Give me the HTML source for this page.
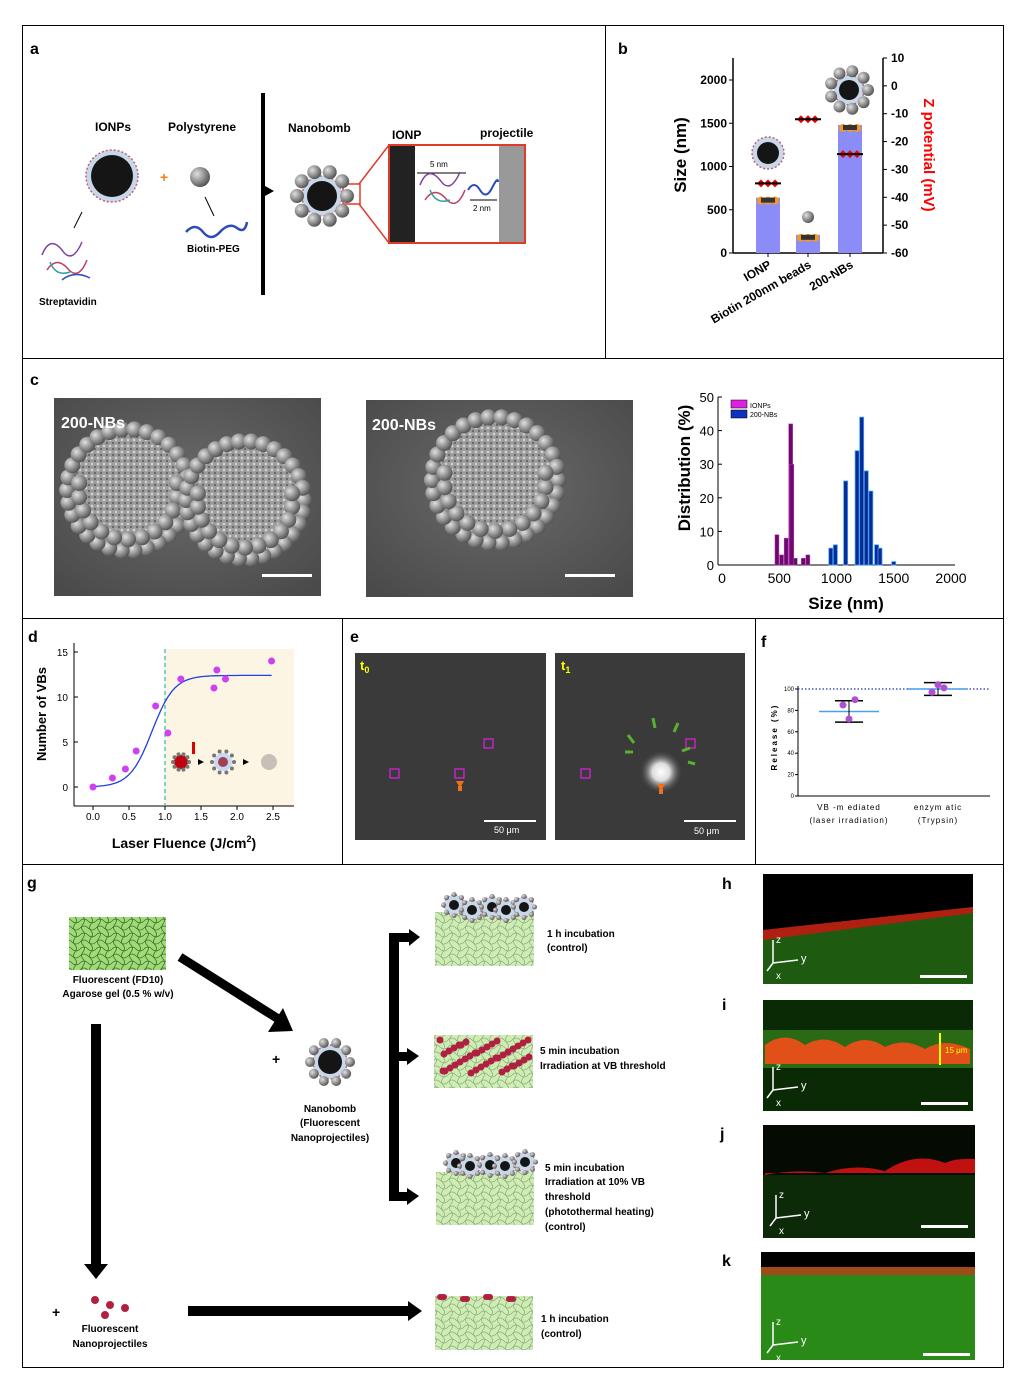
<!DOCTYPE html>
<html><head><meta charset="utf-8"><style>
html,body{margin:0;padding:0;background:#fff;}
svg{display:block;font-family:"Liberation Sans",Arial,sans-serif;}
.b{font-weight:bold}
</style></head><body>
<svg id="fig" width="1014" height="1383" viewBox="0 0 1014 1383" xmlns="http://www.w3.org/2000/svg">
<defs>
<pattern id="mesh" width="16" height="14" patternUnits="userSpaceOnUse">
<rect width="16" height="14" fill="#cdeeb0"/>
<path d="M0 4 Q4 0 8 4 T16 4 M0 11 Q4 7 8 11 T16 11 M3 0 Q0 4 3 7 T3 14 M11 0 Q8 4 11 7 T11 14" stroke="#8fa88a" stroke-width="0.7" fill="none"/>
</pattern>
<pattern id="mesh2" width="16" height="14" patternUnits="userSpaceOnUse">
<rect width="16" height="14" fill="#9fdc74"/>
<path d="M0 4 Q4 0 8 4 T16 4 M0 11 Q4 7 8 11 T16 11 M3 0 Q0 4 3 7 T3 14 M11 0 Q8 4 11 7 T11 14" stroke="#3c6a3a" stroke-width="0.8" fill="none"/>
</pattern>
<pattern id="semtex" width="6" height="6" patternUnits="userSpaceOnUse">
<rect width="6" height="6" fill="#9a9a9a"/><circle cx="2" cy="2" r="1.4" fill="#d0d0d0"/><circle cx="5" cy="5" r="1" fill="#5a5a5a"/>
</pattern>
<radialGradient id="sem" cx="50%" cy="45%" r="70%"><stop offset="0" stop-color="#6a6a6a"/><stop offset="1" stop-color="#4a4a4a"/></radialGradient>
<radialGradient id="bead" cx="35%" cy="35%" r="70%"><stop offset="0" stop-color="#e0e0e0"/><stop offset="1" stop-color="#505050"/></radialGradient>
<radialGradient id="spot" cx="50%" cy="50%" r="50%"><stop offset="0" stop-color="#fff"/><stop offset="0.4" stop-color="#ddd"/><stop offset="1" stop-color="#333" stop-opacity="0"/></radialGradient>
</defs>

<g stroke="#000" stroke-width="1" fill="none">
<rect x="22.5" y="25.5" width="981" height="1342"/>
<line x1="22" y1="358.5" x2="1003" y2="358.5"/>
<line x1="22" y1="618.5" x2="1003" y2="618.5"/>
<line x1="22" y1="864.5" x2="1003" y2="864.5"/>
<line x1="605.5" y1="25" x2="605.5" y2="358"/>
<line x1="342.5" y1="618" x2="342.5" y2="864"/>
<line x1="755.5" y1="618" x2="755.5" y2="864"/>
</g>

<g class="b" font-size="16">
<text x="30" y="54">a</text><text x="618" y="54">b</text><text x="30" y="385">c</text>
<text x="28" y="642">d</text><text x="350" y="642">e</text><text x="761" y="647">f</text>
<text x="27" y="888">g</text><text x="722" y="889">h</text><text x="722" y="1010">i</text>
<text x="720" y="1139">j</text><text x="722" y="1266">k</text>
</g>

<g id="panelA">
<text x="95" y="131" font-size="12" class="b">IONPs</text>
<text x="168" y="131" font-size="12" class="b">Polystyrene</text>
<text x="288" y="132" font-size="12" class="b">Nanobomb</text>
<text x="392" y="139" font-size="12" class="b">IONP</text>
<text x="480" y="137" font-size="12" class="b">projectile</text>
<text x="187" y="252" font-size="10" class="b">Biotin-PEG</text>
<text x="39" y="305" font-size="10" class="b">Streptavidin</text>
<text x="160" y="182" font-size="14" fill="#f08020" class="b">+</text>
<path d="M186 232 Q195 222 203 232 T220 232 T237 228 T247 222" stroke="#2a4db8" stroke-width="2.5" fill="none"/>
<line x1="205" y1="197" x2="214" y2="216" stroke="#000"/>
<line x1="82" y1="212" x2="74" y2="228" stroke="#000"/>
<line x1="263" y1="93" x2="263" y2="295" stroke="#000" stroke-width="4"/>
<path d="M265 186 L274 191 L265 196 Z" fill="#000"/>
<rect x="389" y="145" width="136" height="98" fill="#fff" stroke="#e03a2a" stroke-width="2"/>
<rect x="390" y="146" width="25" height="96" fill="#222"/>
<rect x="499" y="146" width="25" height="96" fill="#999"/>
<line x1="359" y1="184" x2="389" y2="145" stroke="#e03a2a" stroke-width="1.5"/>
<line x1="359" y1="204" x2="389" y2="243" stroke="#e03a2a" stroke-width="1.5"/>
<rect x="343" y="184" width="17" height="20" fill="none" stroke="#e03a2a" stroke-width="1.5"/>
<line x1="417" y1="173" x2="466" y2="173" stroke="#000"/>
<text x="430" y="167" font-size="8">5 nm</text>
<line x1="470" y1="200" x2="497" y2="200" stroke="#000"/>
<text x="473" y="211" font-size="8">2 nm</text>
<path d="M468 190 Q474 180 480 190 T492 188 T498 182" stroke="#2a4db8" stroke-width="2" fill="none"/>
<g fill="none" stroke-width="1.5">
<path d="M420 185 q8 -20 20 -5 q10 15 20 -8" stroke="#8040a0"/><path d="M425 200 q10 -15 22 0 q10 10 18 -10" stroke="#c04060"/><path d="M430 190 q6 15 20 10" stroke="#2aa0a0"/>
<path d="M42 255 q8 -20 20 -5 q10 15 20 -8" stroke="#8040a0"/><path d="M47 270 q10 -15 22 0 q10 10 18 -10" stroke="#c04060"/><path d="M50 262 q6 15 20 10" stroke="#2aa0a0"/><path d="M62 280 q12 -10 28 -2" stroke="#3050c0"/>
</g>
</g>

<g id="panelB"></g>

<g>
<rect x="54" y="398" width="267" height="198" fill="url(#sem)"/>
<rect x="366" y="400" width="267" height="197" fill="url(#sem)"/>
<g id="semBeads"></g>
<text x="61" y="428" font-size="16" fill="#fff" class="b">200-NBs</text>
<text x="372" y="430" font-size="16" fill="#fff" class="b">200-NBs</text>
<rect x="262" y="574" width="50" height="3" fill="#fff"/>
<rect x="565" y="574" width="50" height="3" fill="#fff"/>
</g>
<g id="panelC"></g>

<g id="panelD"></g>

<g>
<rect x="355" y="653" width="191" height="187" fill="#3a3a3a"/>
<rect x="555" y="653" width="190" height="187" fill="#3a3a3a"/>
<text x="360" y="670" font-size="13" fill="#ff0" class="b">t<tspan font-size="9" dy="3">0</tspan></text>
<text x="561" y="670" font-size="13" fill="#ff0" class="b">t<tspan font-size="9" dy="3">1</tspan></text>
<g fill="none" stroke="#e020e0" stroke-width="1.2">
<rect x="390" y="769" width="9" height="9"/><rect x="455" y="769" width="9" height="9"/><rect x="484" y="739" width="9" height="9"/>
<rect x="581" y="769" width="9" height="9"/><rect x="686" y="739" width="9" height="9"/>
</g>
<circle cx="661" cy="772" r="22" fill="url(#spot)"/>
<path d="M456 781 L464 781 L460 788 Z M458 786 h4 v5 h-4 Z" fill="#f07020"/>
<path d="M657 784 L665 784 L661 791 Z M659 789 h4 v5 h-4 Z" fill="#f07020"/>
<g stroke="#5ab030" stroke-width="3">
<line x1="628" y1="735" x2="634" y2="743"/><line x1="653" y1="718" x2="655" y2="728"/><line x1="678" y1="723" x2="674" y2="732"/><line x1="690" y1="748" x2="682" y2="751"/><line x1="695" y1="764" x2="688" y2="762"/><line x1="625" y1="752" x2="633" y2="752"/>
</g>
<rect x="484" y="820" width="52" height="2" fill="#fff"/><text x="494" y="833" font-size="9" fill="#fff">50 μm</text>
<rect x="684" y="820" width="52" height="2" fill="#fff"/><text x="694" y="834" font-size="9" fill="#fff">50 μm</text>
</g>

<g id="panelF"></g>

<g id="panelG">
<rect x="69" y="917" width="97" height="53" fill="url(#mesh2)"/>
<text x="118" y="983" font-size="10" class="b" text-anchor="middle">Fluorescent (FD10)</text>
<text x="118" y="997" font-size="10" class="b" text-anchor="middle">Agarose gel (0.5 % w/v)</text>
<line x1="180" y1="957" x2="280" y2="1020" stroke="#000" stroke-width="9"/>
<path d="M268 1032 L293 1031 L283 1008 Z" fill="#000"/>
<rect x="91" y="1024" width="10" height="240" fill="#000"/>
<path d="M84 1264 L108 1264 L96 1279 Z" fill="#000"/>
<text x="272" y="1064" font-size="14" class="b">+</text>
<text x="330" y="1112" font-size="10" class="b" text-anchor="middle">Nanobomb</text>
<text x="330" y="1126" font-size="10" class="b" text-anchor="middle">(Fluorescent</text>
<text x="330" y="1141" font-size="10" class="b" text-anchor="middle">Nanoprojectiles)</text>
<rect x="389" y="933" width="10" height="268" fill="#000"/>
<rect x="389" y="933" width="22" height="9" fill="#000"/><path d="M409 929 L420 937 L409 946 Z" fill="#000"/>
<rect x="399" y="1052" width="10" height="9" fill="#000"/><path d="M407 1048 L419 1056 L407 1065 Z" fill="#000"/>
<rect x="389" y="1192" width="20" height="9" fill="#000"/><path d="M407 1188 L419 1196 L407 1205 Z" fill="#000"/>
<rect x="188" y="1306" width="222" height="10" fill="#000"/><path d="M408 1301 L422 1311 L408 1321 Z" fill="#000"/>
<text x="52" y="1317" font-size="14" class="b">+</text>
<text x="110" y="1332" font-size="10" class="b" text-anchor="middle">Fluorescent</text>
<text x="110" y="1347" font-size="10" class="b" text-anchor="middle">Nanoprojectiles</text>
<rect x="435" y="912" width="99" height="54" fill="url(#mesh)"/>
<rect x="434" y="1035" width="99" height="53" fill="url(#mesh)"/>
<rect x="436" y="1172" width="98" height="53" fill="url(#mesh)"/>
<rect x="435" y="1296" width="98" height="54" fill="url(#mesh)"/>
<g font-size="10" class="b">
<text x="547" y="937">1 h incubation</text><text x="547" y="951">(control)</text>
<text x="540" y="1054">5 min incubation</text><text x="540" y="1069">Irradiation at VB threshold</text>
<text x="545" y="1171">5 min incubation</text><text x="545" y="1185">Irradiation at 10% VB</text><text x="545" y="1200">threshold</text><text x="545" y="1215">(photothermal heating)</text><text x="545" y="1230">(control)</text>
<text x="541" y="1322">1 h incubation</text><text x="541" y="1337">(control)</text>
</g>
<g id="gDeco"></g>
</g>

<g>
<rect x="763" y="874" width="210" height="110" fill="#000"/>
<path d="M763 930 L973 907 L973 984 L763 984 Z" fill="#1e5a10"/>
<path d="M763 930 L973 907 L973 913 L763 940 Z" fill="#b02010"/>
<rect x="763" y="1000" width="210" height="111" fill="#0a2a05"/>
<rect x="763" y="1030" width="210" height="38" fill="#2a6a15"/>
<path d="M765 1045 q20 -15 40 0 q20 -12 40 2 q20 -14 40 0 q20 -10 40 2 q20 -12 45 0 v15 h-205 z" fill="#e05018"/>
<line x1="940" y1="1033" x2="940" y2="1065" stroke="#ff0" stroke-width="2"/>
<text x="945" y="1053" font-size="8" fill="#ff0">15 μm</text>
<rect x="763" y="1125" width="212" height="113" fill="#050a03"/>
<rect x="763" y="1175" width="212" height="63" fill="#0d2a08"/>
<path d="M765 1175 q30 -6 60 -2 q30 -10 60 -2 q30 -20 60 -8 q10 -5 30 -4 v14 h-210 z" fill="#c01010"/>
<rect x="761" y="1252" width="214" height="108" fill="#2a8a18"/>
<rect x="761" y="1252" width="214" height="15" fill="#000"/>
<rect x="761" y="1267" width="214" height="8" fill="#a04a18"/>
<g fill="#fff">
<rect x="920" y="975" width="47" height="3"/><rect x="921" y="1102" width="47" height="3"/><rect x="921" y="1225" width="47" height="3"/><rect x="923" y="1353" width="47" height="3"/>
</g>
<g id="axesIcons"></g>
</g>
</svg>

<script>
var NS='http://www.w3.org/2000/svg';
function mk(parent,tag,attrs,txt){var e=document.createElementNS(NS,tag);for(var k in attrs)e.setAttribute(k,attrs[k]);if(txt!==undefined)e.textContent=txt;parent.appendChild(e);return e;}

// ---------- panel b data ----------
var bCategories=['IONP','Biotin 200nm beads','200-NBs'];
var bSize=[640,210,1480];
var bZeta=[-35,-12,-24.5];
var bSizeTicks=[0,500,1000,1500,2000];
var bZetaTicks=[10,0,-10,-20,-30,-40,-50,-60];

// ---------- panel c data ----------
var cIonpSize=[480,520,560,600,610,640,710,750];
var cIonpPct=[9,3,8,42,30,2,2,3];
var cNbSize=[950,990,1080,1180,1220,1260,1300,1350,1380,1500];
var cNbPct=[5,6,25,34,44,28,22,6,5,1];
var cXTicks=[0,500,1000,1500,2000];
var cYTicks=[0,10,20,30,40,50];

// ---------- panel d data ----------
var dFluence=[0,0.27,0.45,0.6,0.87,1.04,1.22,1.68,1.72,1.84,2.48];
var dVBs=[0,1,2,4,9,6,12,11,13,12,14];
var dFitParams=[12.4,0.82,6.5];
var dXTicks=[0,0.5,1,1.5,2,2.5];
var dYTicks=[0,5,10,15];

// ---------- panel f data ----------
var fCategories=['VB-mediated','enzymatic'];
var fMeans=[79,100];
var fErr=[10,6];
var fPoints=[[85,72,90],[97,104,101]];
var fYTicks=[0,20,40,60,80,100];

(function(){
var g=document.getElementById('panelB');
var x0=733,x1=883,yb=253;
function ys(v){return yb-v*(173/2000);}
function yz(v){return 58+(10-v)*(195/70);}
var cx=[768,808,850];
mk(g,'line',{x1:x0,y1:58,x2:x0,y2:yb,stroke:'#000','stroke-width':1.5});
mk(g,'line',{x1:x0,y1:yb,x2:x1,y2:yb,stroke:'#000','stroke-width':1.5});
mk(g,'line',{x1:x1,y1:58,x2:x1,y2:yb,stroke:'#000','stroke-width':1.5});
bSizeTicks.forEach(function(t){var y=ys(t);mk(g,'line',{x1:x0-4,y1:y,x2:x0,y2:y,stroke:'#000'});var e=mk(g,'text',{x:x0-6,y:y+4,'font-size':12,'text-anchor':'end','font-weight':'bold'},t);

});
bZetaTicks.forEach(function(t){var y=yz(t);mk(g,'line',{x1:x1,y1:y,x2:x1+4,y2:y,stroke:'#000'});var e=mk(g,'text',{x:x1+8,y:y+4,'font-size':12,'font-weight':'bold'},t);

});
var t1=mk(g,'text',{x:0,y:0,'font-size':17,'font-weight':'bold','text-anchor':'middle',transform:'translate(686,155) rotate(-90)'},'Size (nm)');


var t2=mk(g,'text',{x:0,y:0,'font-size':15,'font-weight':'bold',fill:'#f00','text-anchor':'middle',transform:'translate(924,155) rotate(90)'},'Z potential (mV)');


bCategories.forEach(function(c,i){
 var r=mk(g,'rect',{x:cx[i]-12,y:ys(bSize[i]),width:24,height:yb-ys(bSize[i]),fill:'#8c8cf8'});
 
 
 var y=ys(bSize[i]);
 [-7,0,7].forEach(function(d){mk(g,'circle',{cx:cx[i]+d,cy:y+3,r:4,fill:'#f59a20'});});
 mk(g,'rect',{x:cx[i]-7,y:y,width:14,height:5,fill:'#333'});
 var z=yz(bZeta[i]);
 [-7,0,7].forEach(function(d){mk(g,'path',{d:'M'+(cx[i]+d)+' '+(z-4)+' l4 4 l-4 4 l-4 -4z',fill:'#e00'});});
 mk(g,'line',{x1:cx[i]-13,y1:z,x2:cx[i]+13,y2:z,stroke:'#000','stroke-width':2});
 mk(g,'line',{x1:cx[i],y1:yb,x2:cx[i],y2:yb+4,stroke:'#000'});
 var lb=mk(g,'text',{x:0,y:0,'font-size':12,'font-weight':'bold','text-anchor':'end',transform:'translate('+(cx[i]+4)+','+(yb+14)+') rotate(-30)'},c);
 
 
});
})();

function np(g,cx,cy,r,sat,sr,n){
 mk(g,'circle',{cx:cx,cy:cy,r:r+5,fill:'#c8d8e8',stroke:'#c06080','stroke-width':1.5,'stroke-dasharray':'2 2'});
 mk(g,'circle',{cx:cx,cy:cy,r:r,fill:'#151515'});
 if(sat){for(var k=0;k<n;k++){var a=k*2*Math.PI/n;mk(g,'circle',{cx:cx+(r+sr+3)*Math.cos(a),cy:cy+(r+sr+3)*Math.sin(a),r:sr,fill:'url(#bead)'});}}
}
(function(){
var g=document.getElementById('panelA');
np(g,112,176,21,false);
mk(g,'circle',{cx:200,cy:177,r:10,fill:'url(#bead)'});
np(g,322,196,15,true,7,10);
var gb=document.getElementById('panelB');
np(gb,768,153,11,false);
mk(gb,'circle',{cx:808,cy:217,r:6,fill:'url(#bead)'});
np(gb,849,90,10,true,6,9);
var sb=document.getElementById('semBeads');
var clusters=[[128,490,58],[245,500,56],[495,480,60]];
clusters.forEach(function(c){
 mk(sb,'circle',{cx:c[0],cy:c[1],r:c[2]+4,fill:'url(#semtex)'});
 [1.05,0.85].forEach(function(f,li){
  var n=li?22:30;
  for(var a=0;a<n;a++){var ang=(a+li*0.5)*2*Math.PI/n;var rr=c[2]*f;
   if(li && Math.sin(ang)<-0.2) continue;
   mk(sb,'circle',{cx:c[0]+rr*Math.cos(ang),cy:c[1]+rr*Math.sin(ang),r:8,fill:'url(#bead)'});}
 });
});
var gd=document.getElementById('gDeco');
np(gd,330,1062,12,true,5,10);
[[454,905],[472,910],[492,907],[506,910],[524,907]].forEach(function(p){np(gd,p[0],p[1],5,true,2.5,8);});
[[456,1163],[470,1166],[490,1165],[505,1166],[525,1162]].forEach(function(p){np(gd,p[0],p[1],5,true,2.5,8);});
for(var i=0;i<40;i++){mk(gd,'circle',{cx:440+(i*37)%90,cy:1040+(i*13)%34,r:3.5,fill:'#b02040'});}
for(var i=0;i<12;i++){mk(gd,'circle',{cx:440+(i*23)%90,cy:1297+(i%2)*2,r:3,fill:'#b02040'});}
[[95,1300],[110,1305],[125,1308],[105,1315]].forEach(function(p){mk(gd,'circle',{cx:p[0],cy:p[1],r:4,fill:'#b02040'});});
var ai=document.getElementById('axesIcons');
[[773,955],[773,1082],[776,1210],[773,1337]].forEach(function(p){
 mk(ai,'line',{x1:p[0],y1:p[1]+8,x2:p[0],y2:p[1]-15,stroke:'#fff','stroke-width':1.5});
 mk(ai,'line',{x1:p[0],y1:p[1]+8,x2:p[0]+25,y2:p[1]+5,stroke:'#fff','stroke-width':1.5});
 mk(ai,'line',{x1:p[0],y1:p[1]+8,x2:p[0]-6,y2:p[1]+16,stroke:'#fff','stroke-width':1.5});
 mk(ai,'text',{x:p[0]+3,y:p[1]-12,'font-size':10,fill:'#fff'},'z');
 mk(ai,'text',{x:p[0]+28,y:p[1]+7,'font-size':11,fill:'#fff'},'y');
 mk(ai,'text',{x:p[0]+3,y:p[1]+24,'font-size':10,fill:'#fff'},'x');
});
})();

(function(){
var g=document.getElementById('panelC');
function xs(v){return 722+v*(229/2000);}
function ys(v){return 565-v*(168/50);}
mk(g,'line',{x1:718,y1:397,x2:718,y2:565,stroke:'#000'});
mk(g,'line',{x1:718,y1:565,x2:955,y2:565,stroke:'#000'});
cYTicks.forEach(function(t){var y=ys(t);mk(g,'line',{x1:718,y1:y,x2:722,y2:y,stroke:'#000'});var e=mk(g,'text',{x:714,y:y+5,'font-size':13,'text-anchor':'end'},t);

});
cXTicks.forEach(function(t){var e=mk(g,'text',{x:xs(t),y:583,'font-size':14,'text-anchor':'middle'},t);

});
cIonpSize.forEach(function(s,i){var r=mk(g,'rect',{x:xs(s)-2,y:ys(cIonpPct[i]),width:4,height:565-ys(cIonpPct[i]),fill:'#6a0a6a',stroke:'#c040c0','stroke-width':0.5});

});
cNbSize.forEach(function(s,i){var r=mk(g,'rect',{x:xs(s)-2,y:ys(cNbPct[i]),width:4,height:565-ys(cNbPct[i]),fill:'#0a2a90',stroke:'#40a0ff','stroke-width':0.8});

});
var t=mk(g,'text',{x:0,y:0,'font-size':17,'font-weight':'bold','text-anchor':'middle',transform:'translate(690,468) rotate(-90)'},'Distribution (%)');


var tx=mk(g,'text',{x:846,y:609,'font-size':17,'font-weight':'bold','text-anchor':'middle'},'Size (nm)');


mk(g,'rect',{x:731,y:400,width:16,height:8,fill:'#e020e0',stroke:'#000','stroke-width':0.5});
mk(g,'rect',{x:731,y:410,width:16,height:8,fill:'#1030c0',stroke:'#000','stroke-width':0.5});
var l1=mk(g,'text',{x:750,y:408,'font-size':7},'IONPs');


var l2=mk(g,'text',{x:750,y:417,'font-size':7},'200-NBs');


})();

(function(){
var g=document.getElementById('panelD');
function xs(v){return 93+v*72;}
function ys(v){return 787-v*9;}
mk(g,'rect',{x:xs(1.0),y:649,width:294-xs(1.0),height:157,fill:'#fdf5e4'});
mk(g,'line',{x1:74,y1:643,x2:74,y2:806,stroke:'#000'});
mk(g,'line',{x1:74,y1:806,x2:294,y2:806,stroke:'#000'});
dYTicks.forEach(function(t){var y=ys(t);mk(g,'line',{x1:74,y1:y,x2:78,y2:y,stroke:'#000'});var e=mk(g,'text',{x:68,y:y+4,'font-size':10,'text-anchor':'end'},t);

});
dXTicks.forEach(function(t){var x=xs(t);mk(g,'line',{x1:x,y1:806,x2:x,y2:810,stroke:'#000'});var e=mk(g,'text',{x:x,y:820,'font-size':10,'text-anchor':'middle'},t.toFixed(1));

});
mk(g,'line',{x1:xs(1.0),y1:649,x2:xs(1.0),y2:806,stroke:'#20c0a0','stroke-dasharray':'4 3','stroke-width':1.2});
var pts=[];for(var k=0;k<=50;k++){var v=k*2.48/50;var y=dFitParams[0]/(1+Math.exp(-dFitParams[2]*(v-dFitParams[1])));pts.push(xs(v).toFixed(1)+','+ys(y).toFixed(1));}
var fl=mk(g,'polyline',{points:pts.join(' '),fill:'none',stroke:'#2040e0','stroke-width':1.3});


dFluence.forEach(function(f,i){var c=mk(g,'circle',{cx:xs(f),cy:ys(dVBs[i]),r:3.5,fill:'#d040f0'});

});
mk(g,'circle',{cx:181,cy:762,r:7,fill:'#c00010'});
for(var k=0;k<10;k++){var a=k*Math.PI/5;mk(g,'circle',{cx:181+8*Math.cos(a),cy:762+8*Math.sin(a),r:2,fill:'#777'});}
mk(g,'circle',{cx:223,cy:762,r:9,fill:'#c8d8f0'});mk(g,'circle',{cx:223,cy:762,r:5,fill:'#a04050'});
for(var k=0;k<10;k++){var a=k*Math.PI/5;mk(g,'circle',{cx:223+11*Math.cos(a),cy:762+11*Math.sin(a),r:2,fill:'#777'});}
mk(g,'circle',{cx:269,cy:762,r:8,fill:'#c8c0b8'});
mk(g,'rect',{x:192,y:742,width:3,height:12,fill:'#d00'});
mk(g,'path',{d:'M198 759 l6 3 l-6 3z M243 759 l6 3 l-6 3z',fill:'#000'});
var yt=mk(g,'text',{x:0,y:0,'font-size':13,'font-weight':'bold','text-anchor':'middle',transform:'translate(46,714) rotate(-90)'},'Number of VBs');


var xt=mk(g,'text',{x:184,y:848,'font-size':14,'font-weight':'bold','text-anchor':'middle'},'Laser Fluence (J/cm');


mk(xt,'tspan',{'font-size':9,dy:-6},'2');
mk(xt,'tspan',{dy:6},')');
})();

(function(){
var g=document.getElementById('panelF');
function ys(v){return 796-v*1.07;}
var cx=[849,938], ax=798;
mk(g,'line',{x1:ax,y1:686,x2:ax,y2:796,stroke:'#000'});
mk(g,'line',{x1:ax,y1:796,x2:990,y2:796,stroke:'#000'});
fYTicks.forEach(function(t){var y=ys(t);mk(g,'line',{x1:ax-3,y1:y,x2:ax,y2:y,stroke:'#000'});var e=mk(g,'text',{x:ax-4,y:y+2,'font-size':6,'text-anchor':'end'},t);

});
mk(g,'line',{x1:ax,y1:ys(100),x2:990,y2:ys(100),stroke:'#2030c0','stroke-dasharray':'1.5 2','stroke-width':1.2});
fCategories.forEach(function(c,i){
 var m=mk(g,'line',{x1:cx[i]-30,y1:ys(fMeans[i]),x2:cx[i]+30,y2:ys(fMeans[i]),stroke:'#4aa0f0','stroke-width':1.5});
 
 
 var t=ys(fMeans[i]+fErr[i]),b=ys(fMeans[i]-fErr[i]);
 mk(g,'line',{x1:cx[i],y1:t,x2:cx[i],y2:b,stroke:'#000'});
 mk(g,'line',{x1:cx[i]-14,y1:t,x2:cx[i]+14,y2:t,stroke:'#000','stroke-width':1.5});
 mk(g,'line',{x1:cx[i]-14,y1:b,x2:cx[i]+14,y2:b,stroke:'#000','stroke-width':1.5});
 fPoints[i].forEach(function(p,k){var d=mk(g,'circle',{cx:cx[i]+(k-1)*6,cy:ys(p),r:3.5,fill:'#b050d0'});
 
 });
});
var l=[['VB -m ediated','(laser irradiation)'],['enzym atic','(Trypsin)']];
l.forEach(function(s,i){mk(g,'text',{x:cx[i],y:810,'font-size':8,'text-anchor':'middle','letter-spacing':1},s[0]);mk(g,'text',{x:cx[i],y:823,'font-size':8,'text-anchor':'middle','letter-spacing':1},s[1]);});
var yt=mk(g,'text',{x:0,y:0,'font-size':8,'font-weight':'bold','letter-spacing':2,'text-anchor':'middle',transform:'translate(777,737) rotate(-90)'},'Release (%)');


})();
</script>
</body></html>
